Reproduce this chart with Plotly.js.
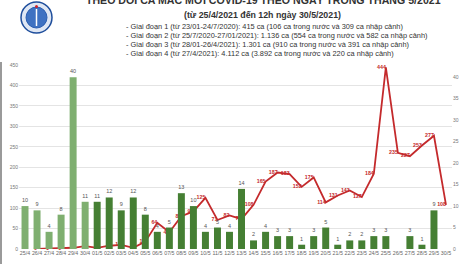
<!DOCTYPE html>
<html>
<head>
<meta charset="utf-8">
<script src="https://cdn.plot.ly/plotly-3.0.1.min.js"></script>
<style>html,body{margin:0;padding:0;background:#fff;}#chart{width:470px;height:264px;}</style>
</head>
<body>
<div id="chart"></div>
<script>
const dates = ["25/4","26/4","27/4","28/4","29/4","30/4","01/5","02/5","03/5","04/5","05/5","06/5","07/5","08/5","09/5","10/5","11/5","12/5","13/5","14/5","15/5","16/5","17/5","18/5","19/5","20/5","21/5","22/5","23/5","24/5","25/5","26/5","27/5","28/5","29/5","30/5"];
const barValues = [10,9,4,8,40,11,11,12,9,12,8,4,5,13,10,4,5,4,14,2,4,3,3,1,3,5,1,2,2,3,3,null,3,1,9,null];
const lineValues = [null,0,1,1,3,7,3,8,10,3,18,64,41,80,92,125,71,82,73,108,165,187,183,152,175,114,131,143,127,184,444,235,227,253,277,108];
const titleLine1 = "THEO DÕI CA MẮC MỚI COVID-19 THEO NGÀY TRONG THÁNG 5/2021";
const titleLine2 = "(từ 25/4/2021 đến 12h ngày 30/5/2021)";
const notes = [
  "- Giai đoạn 1 (từ 23/01-24/7/2020): 415 ca (106 ca trong nước và 309 ca nhập cảnh)",
  "- Giai đoạn 2 (từ 25/7/2020-27/01/2021): 1.136 ca (554 ca trong nước và 582 ca nhập cảnh)",
  "- Giai đoạn 3 (từ 28/01-26/4/2021): 1.301 ca (910 ca trong nước và 391 ca nhập cảnh)",
  "- Giai đoạn 4 (từ 27/4/2021): 4.112 ca (3.892 ca trong nước và 220 ca nhập cảnh)"
];

const W = 470, H = 264, ML = 19, MR = 18, MT = 65, MB = 15;
const PW = W - ML - MR, PH = H - MT - MB;
const px = x => (x - ML) / PW;
const py = y => (H - MB - y) / PH;

const barColors = dates.map(d => d.endsWith("/4") ? "#7faf70" : "#457f33");

const traces = [
  {
    type: "bar", x: dates, y: barValues, yaxis: "y2",
    marker: {color: barColors}, width: 0.58,
    text: barValues.map(v => v == null ? "" : String(v)),
    textposition: "outside", cliponaxis: false,
    textfont: {size: 5.5, color: "#555", family: "Liberation Sans, Arial"},
    hoverinfo: "skip"
  },
  {
    type: "scatter", mode: "lines+text", x: dates, y: lineValues, yaxis: "y",
    line: {color: "#c42a2c", width: 1.8}, connectgaps: false,
    text: lineValues.map(v => v == null ? "" : String(v)),
    textposition: "middle left", cliponaxis: false,
    textfont: {size: 5.3, color: "#c42a2c", family: "Liberation Sans, Arial", weight: "bold"},
    hoverinfo: "skip"
  }
];

const annotations = [
  {text: "<b>" + titleLine1 + "</b>", xref: "paper", yref: "paper", x: px(263), y: py(0), xanchor: "center", yanchor: "middle", showarrow: false, font: {size: 10.6, color: "#333", family: "Liberation Sans, Arial"}},
  {text: titleLine2, xref: "paper", yref: "paper", x: px(262), y: py(15.5), xanchor: "center", yanchor: "middle", showarrow: false, font: {size: 8.8, color: "#333", family: "Liberation Sans, Arial", weight: "bold"}}
];
const noteY = [26.7, 35.5, 44.5, 53.5];
notes.forEach((t, i) => annotations.push({text: t, xref: "paper", yref: "paper", x: px(124), y: py(noteY[i]), xanchor: "left", yanchor: "middle", showarrow: false, font: {size: 7.4, color: "#333", family: "Liberation Sans, Arial"}}));

const shapes = [
  {type: "line", xref: "paper", yref: "paper", x0: px(1), x1: px(1), y0: py(62), y1: py(264), line: {color: "#9a9a9a", width: 2}},
  {type: "circle", xref: "paper", yref: "paper", x0: px(21), x1: px(52), y0: py(33), y1: py(2), line: {color: "#1f4e9c", width: 1.5}, fillcolor: "#dfe7f4"},
  {type: "circle", xref: "paper", yref: "paper", x0: px(26), x1: px(47), y0: py(28), y1: py(7), line: {color: "#2a5db0", width: 1}, fillcolor: "#3f72c2"},
  {type: "line", xref: "paper", yref: "paper", x0: px(36.5), x1: px(36.5), y0: py(9), y1: py(26), line: {color: "#ffffff", width: 1.5}},
  {type: "circle", xref: "paper", yref: "paper", x0: px(35), x1: px(38), y0: py(8), y1: py(5), line: {width: 0}, fillcolor: "#d0242a"}
];

const layout = {
  width: W, height: H,
  margin: {l: ML, r: MR, t: MT, b: MB, pad: 0},
  paper_bgcolor: "#fff", plot_bgcolor: "#fff",
  showlegend: false, bargap: 0.4,
  font: {family: "Liberation Sans, Arial", color: "#777"},
  xaxis: {type: "category", range: [-0.5, 35.5], showgrid: false, zeroline: false, showline: false, ticks: "", tickfont: {size: 5.3, color: "#666"}, tickangle: 0, automargin: false},
  yaxis: {range: [0, 450], tickvals: [0,50,100,150,200,250,300,350,400,450], showgrid: true, gridcolor: "#e4e4e4", gridwidth: 1, zeroline: false, showline: false, ticks: "", tickfont: {size: 5, color: "#777"}, automargin: false},
  yaxis2: {overlaying: "y", side: "right", range: [0, 42.86], tickvals: [0,5,10,15,20,25,30,35,40], showgrid: false, zeroline: false, showline: false, ticks: "", tickfont: {size: 5, color: "#777"}, automargin: false},
  annotations: annotations,
  shapes: shapes
};

Plotly.newPlot("chart", traces, layout, {staticPlot: true, displayModeBar: false});
</script>
</body>
</html>
